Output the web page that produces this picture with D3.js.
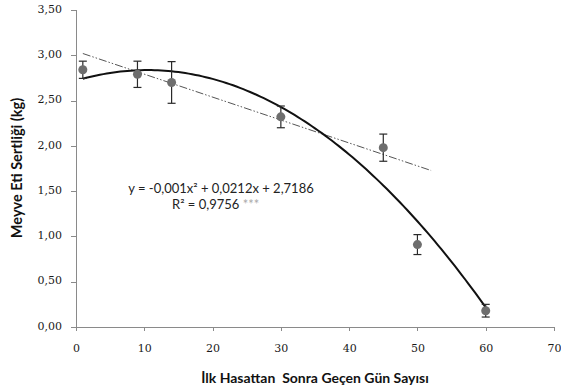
<!DOCTYPE html>
<html>
<head>
<meta charset="utf-8">
<script src="https://cdn.jsdelivr.net/npm/d3@7"></script>
<style>
  body { margin: 0; background: #fff; }
  svg { display: block; }
</style>
</head>
<body>
<div id="chart"></div>
<script>
// Data
const days = [1, 9, 14, 30, 45, 50, 60]
const firmness = [2.84, 2.79, 2.70, 2.32, 1.98, 0.91, 0.18]
const errors = [0.095, 0.145, 0.23, 0.12, 0.15, 0.11, 0.07]
const yTicks = [0, 0.5, 1, 1.5, 2, 2.5, 3, 3.5]
const xTicks = [0, 10, 20, 30, 40, 50, 60, 70]
// trendlines: [c, b, a] for c + b*x + a*x^2
const quadCoef = [2.72, 0.0223, -0.001067]
const quadRange = [1, 60]
const linCoef = [3.045, -0.02533]
const linRange = [1, 52]
const equationLines = ['y = -0,001x² + 0,0212x + 2,7186', 'R² = 0,9756']

const width = 561
const height = 389
const margins = { top: 10, right: 7, bottom: 62, left: 76 }

const svg = d3.select('#chart').append('svg')
  .attr('width', width)
  .attr('height', height)

const xScale = d3.scaleLinear()
  .domain([0, 70])
  .range([margins.left, width - margins.right])

const yScale = d3.scaleLinear()
  .domain([0, 3.5])
  .range([height - margins.bottom, margins.top])

const commaFormat = d => d3.format('.2f')(d).replace('.', ',')

// Axes
const xAxis = svg.append('g')
  .attr('transform', `translate(0, ${yScale(0)})`)
  .call(d3.axisBottom(xScale).tickValues(xTicks).tickSizeOuter(0).tickSize(4).tickPadding(13))

const yAxis = svg.append('g')
  .attr('transform', `translate(${xScale(0)}, 0)`)
  .call(d3.axisLeft(yScale).tickValues(yTicks).tickFormat(commaFormat).tickSizeOuter(0).tickSize(5).tickPadding(9))

;[xAxis, yAxis].forEach(g => {
  g.selectAll('path, line').attr('stroke', '#8a8a8a').attr('shape-rendering', 'crispEdges')
  g.selectAll('text')
    .attr('fill', '#1a1a1a')
    .style('font-family', 'DejaVu Serif, serif')
    .style('font-size', '11px')
})
yAxis.selectAll('text').attr('dy', '0.2em')

// Linear trendline (dash-dot-dot)
const linLine = d3.line()
  .x(d => xScale(d))
  .y(d => yScale(linCoef[0] + linCoef[1] * d))

svg.append('path')
  .datum(linRange)
  .attr('d', linLine)
  .attr('fill', 'none')
  .attr('stroke', '#555')
  .attr('stroke-width', 1)
  .attr('stroke-dasharray', '8,2,1.5,2,1.5,2')

// Quadratic trendline
const quadXs = d3.range(quadRange[0], quadRange[1] + 0.01, 0.5)
const quadLine = d3.line()
  .x(d => xScale(d))
  .y(d => yScale(quadCoef[0] + quadCoef[1] * d + quadCoef[2] * d * d))

svg.append('path')
  .datum(quadXs)
  .attr('d', quadLine)
  .attr('fill', 'none')
  .attr('stroke', '#111')
  .attr('stroke-width', 2)

// Error bars
const bars = svg.append('g')
  .attr('stroke', '#2a2a2a')
  .attr('stroke-width', 1.2)

days.forEach((x, i) => {
  const cx = xScale(x)
  const top = yScale(firmness[i] + errors[i])
  const bottom = yScale(firmness[i] - errors[i])
  bars.append('line').attr('x1', cx).attr('x2', cx).attr('y1', top).attr('y2', bottom)
  bars.append('line').attr('x1', cx - 4).attr('x2', cx + 4).attr('y1', top).attr('y2', top)
  bars.append('line').attr('x1', cx - 4).attr('x2', cx + 4).attr('y1', bottom).attr('y2', bottom)
})

// Points
svg.selectAll('.pt')
  .data(days)
  .enter().append('circle')
  .attr('class', 'pt')
  .attr('cx', d => xScale(d))
  .attr('cy', (d, i) => yScale(firmness[i]))
  .attr('r', 4.5)
  .attr('fill', '#6e6e6e')

// Equation text
const eq = svg.append('g')
  .style('font-family', 'Lato, sans-serif')
  .style('font-size', '13px')
  .attr('fill', '#222')

eq.append('text')
  .attr('x', 221)
  .attr('y', 193)
  .attr('text-anchor', 'middle')
  .text(equationLines[0])

const r2 = eq.append('text')
  .attr('x', 172)
  .attr('y', 209)
r2.append('tspan').text(equationLines[1] + ' ')
r2.append('tspan').attr('fill', '#aaa').text('***')

// Axis titles
svg.append('text')
  .attr('transform', `translate(22, ${168}) rotate(-90)`)
  .attr('text-anchor', 'middle')
  .style('font-family', 'Lato, sans-serif')
  .style('font-weight', 'bold')
  .style('font-size', '14.5px')
  .attr('fill', '#111')
  .text('Meyve Eti Sertliği (kg)')

svg.append('text')
  .attr('x', 315)
  .attr('y', 383)
  .attr('text-anchor', 'middle')
  .style('font-family', 'Lato, sans-serif')
  .style('font-weight', 'bold')
  .style('font-size', '14px')
  .style('white-space', 'pre')
  .attr('fill', '#111')
  .text('İlk Hasattan  Sonra Geçen Gün Sayısı')
</script>
</body>
</html>
